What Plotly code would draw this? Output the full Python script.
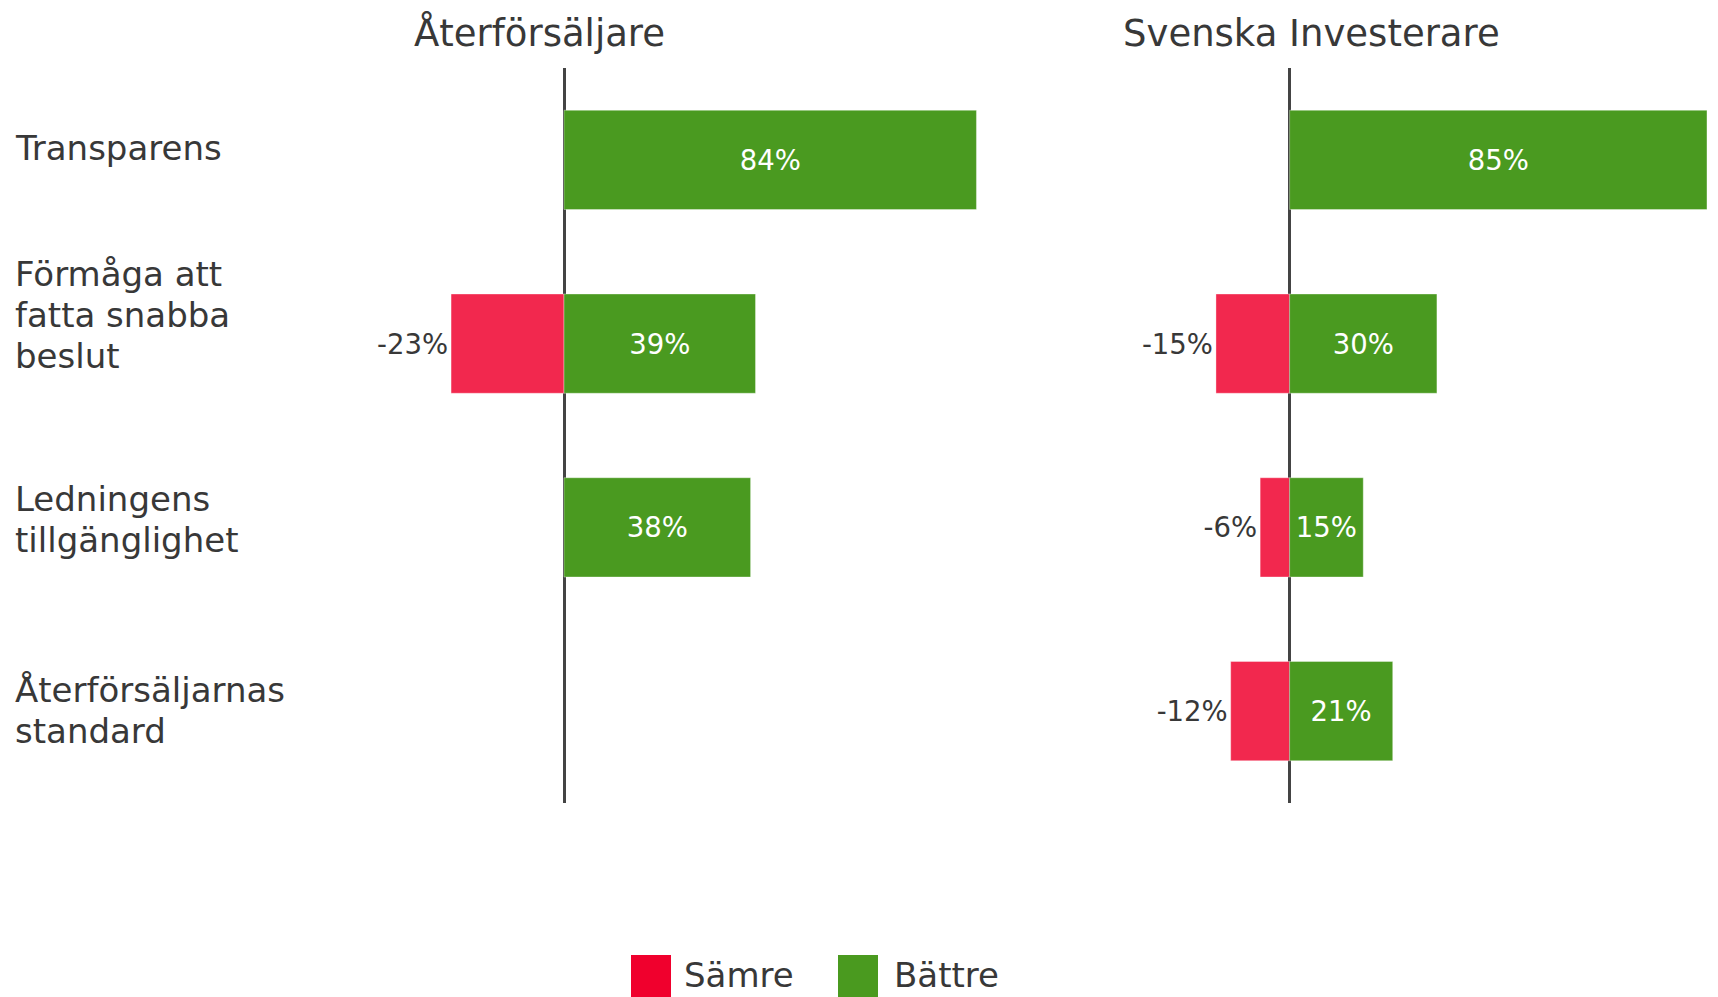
import plotly.graph_objects as go

# ---------------- data ----------------
categories = ["Transparens", "Förmåga att fatta snabba beslut",
              "Ledningens tillgänglighet", "Återförsäljarnas standard"]
category_labels = [["Transparens"], ["Förmåga att", "fatta snabba", "beslut"],
                   ["Ledningens", "tillgänglighet"], ["Återförsäljarnas", "standard"]]
panel_titles = ["Återförsäljare", "Svenska Investerare"]
series_names = ["Sämre", "Bättre"]

samre_aterf = [None, -23, None, None]
battre_aterf = [84, 39, 38, None]
samre_svenska = [None, -15, -6, -12]
battre_svenska = [85, 30, 15, 21]

# ---------------- style ----------------
W, H = 1718, 997
RED_BAR = "#F2284E"
GREEN_BAR = "#4A9A20"
RED_LEG = "#F0002D"
GREEN_LEG = "#4A9A1F"
TXT = "#383838"
FONT = "DejaVu Sans"


def px_x(p):
    return p / W


def px_y(p):
    return 1 - p / H


def fmt(vals):
    return [f"{v}%" if v is not None else "" for v in vals]


fig = go.Figure()

panels = [(samre_aterf, battre_aterf, "x", "y"),
          (samre_svenska, battre_svenska, "x2", "y2")]
for samre, battre, xa, ya in panels:
    fig.add_trace(go.Bar(
        name=series_names[0], y=categories, x=samre, orientation="h",
        marker=dict(color=RED_BAR, line=dict(color="rgba(255,255,255,0.35)", width=1)),
        text=fmt(samre), textposition="outside", textangle=0,
        textfont=dict(color=TXT, size=27.5, family=FONT),
        cliponaxis=False, width=0.54, xaxis=xa, yaxis=ya, showlegend=False,
    ))
    fig.add_trace(go.Bar(
        name=series_names[1], y=categories, x=battre, orientation="h",
        marker=dict(color=GREEN_BAR, line=dict(color="rgba(255,255,255,0.35)", width=1)),
        text=fmt(battre), textposition="inside", insidetextanchor="middle", textangle=0,
        textfont=dict(color="white", size=27.5, family=FONT),
        cliponaxis=False, width=0.54, xaxis=xa, yaxis=ya, showlegend=False,
    ))

ydom = [px_y(803), px_y(68)]
xcommon = dict(showgrid=False, showticklabels=False, ticks="", showline=False,
               zeroline=True, zerolinecolor="#444444", zerolinewidth=2.5, fixedrange=True)
ycommon = dict(showgrid=False, showticklabels=False, ticks="", showline=False,
               zeroline=False, type="category", categoryorder="array",
               categoryarray=categories, range=[3.5, -0.5], domain=ydom, fixedrange=True)

fig.update_layout(
    width=W, height=H,
    margin=dict(l=0, r=0, t=0, b=0),
    paper_bgcolor="white", plot_bgcolor="white",
    barmode="relative",
    showlegend=False,
    font=dict(family=FONT, color=TXT),
    xaxis=dict(domain=[px_x(367.6), px_x(1005.9)], range=[-40, 90], anchor="y", **xcommon),
    yaxis=dict(anchor="x", **ycommon),
    xaxis2=dict(domain=[px_x(1093.2), px_x(1716.8)], range=[-40, 87], anchor="y2", **xcommon),
    yaxis2=dict(anchor="x2", **ycommon),
)

annotations = []
# panel titles
for title, cx in zip(panel_titles, [539, 1311]):
    annotations.append(dict(text=title, x=px_x(cx), y=px_y(33), xref="paper", yref="paper",
                            xanchor="center", yanchor="middle", showarrow=False,
                            font=dict(size=37, color=TXT, family=FONT)))

# category labels (left aligned, one annotation per line)
first_line_shift = [12, 70, 28, 21]
line_step = 41
for cat, lines, s in zip(categories, category_labels, first_line_shift):
    for i, line in enumerate(lines):
        annotations.append(dict(text=line, x=px_x(13), y=cat, xref="paper", yref="y",
                                xanchor="left", yanchor="middle", showarrow=False,
                                yshift=s - i * line_step,
                                font=dict(size=34, color=TXT, family=FONT)))

# manual legend
shapes = []
for name, col, x0, tx in zip(series_names, [RED_LEG, GREEN_LEG], [631, 838], [682, 892]):
    shapes.append(dict(type="rect", xref="paper", yref="paper",
                       x0=px_x(x0), x1=px_x(x0 + 40), y0=px_y(997), y1=px_y(955),
                       fillcolor=col, line=dict(width=0)))
    annotations.append(dict(text=name, x=px_x(tx), y=px_y(975), xref="paper", yref="paper",
                            xanchor="left", yanchor="middle", showarrow=False,
                            font=dict(size=34, color=TXT, family=FONT)))

fig.update_layout(annotations=annotations, shapes=shapes)

fig.write_html("out.html", config={"displayModeBar": False},
               post_script="document.body.style.margin='0';document.body.style.overflow='hidden';")
